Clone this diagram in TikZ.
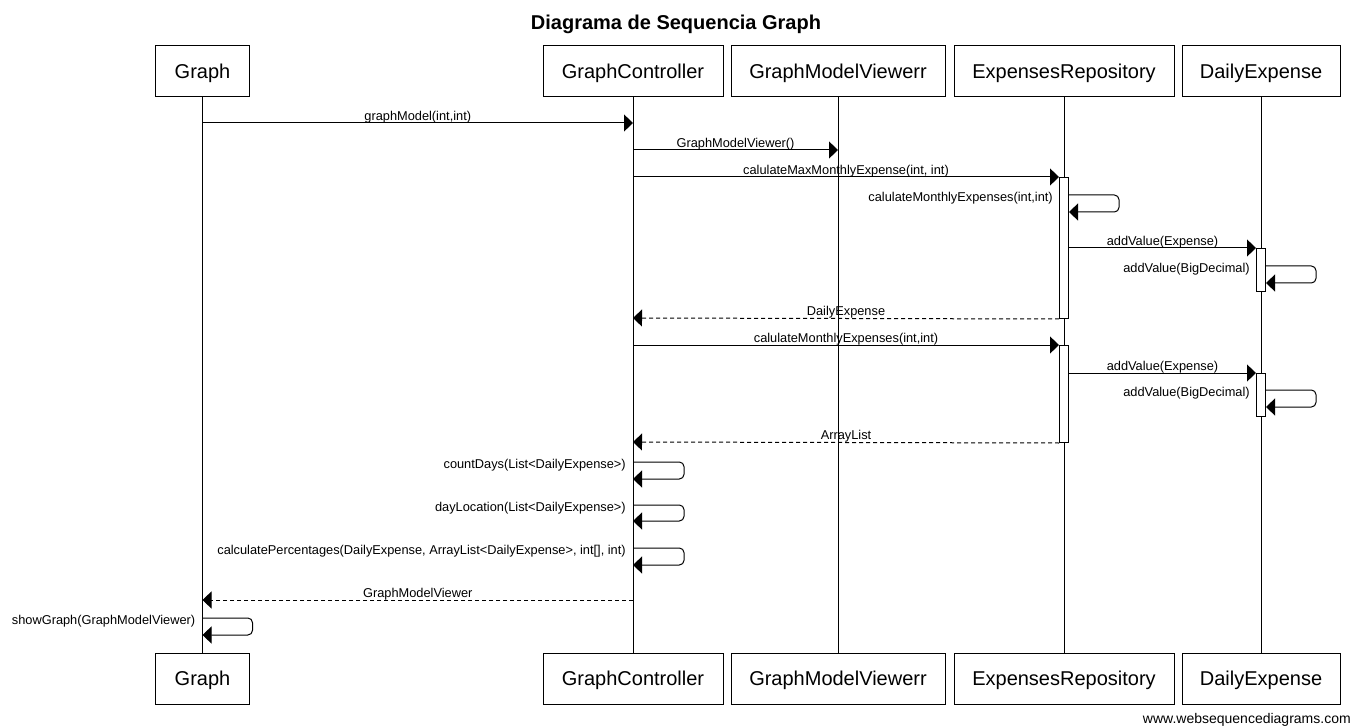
\documentclass[tikz,border=0pt]{standalone}
\usepackage{fontspec}
\setmainfont{Liberation Sans}
\usepackage{tikz}
\usetikzlibrary{arrows.meta,positioning,calc}

\begin{document}
\begin{tikzpicture}[
x=0.75pt, y=-0.75pt,
font=\fontsize{9.6}{11.5}\selectfont,
objbox/.style={draw,line width=0.75pt,minimum height=51*0.75pt,inner sep=0pt,
               text height=11pt,text depth=0pt,font=\fontsize{15}{18}\selectfont},
lifeline/.style={line width=0.75pt},
actbox/.style={draw,fill=white,line width=0.75pt,minimum width=9*0.75pt,inner sep=0pt,anchor=north},
call/.style={line width=0.75pt,-{Triangle[length=6.75pt,width=12.75pt]}},
reply/.style={call,dash pattern=on 3pt off 2.25pt},
selfcall/.style={call,rounded corners=3.5pt},
msg/.style={inner sep=0pt,anchor=base,yshift=2pt},
selfmsg/.style={inner sep=0pt,anchor=base east}
]
    \useasboundingbox (0,0) rectangle (1353,727);

    % Title
    \node[font=\bfseries\fontsize{15}{18}\selectfont] (title) at (676,24.5) {Diagrama de Sequencia Graph};

    % Rows of the messages
    \foreach \n/\y in {r1/123,r2/150,r3/177,s1/195,s1e/212,r4/248,s2/266,s2e/283,r5/318,
                       r6/345,r7/373,s3/390,s3e/407,r8/442,s4/462,s4e/479,s5/505,s5e/521,
                       s6/548,s6e/565,r9/600,s7/618,s7e/635}
        \coordinate (\n) at (0,\y);

    % Objects and lifelines
    \foreach \name/\x/\w/\txt in {graph/202.5/94/Graph,ctrl/633/180/GraphController,
                                  viewer/838/214/GraphModelViewerr,repo/1064/220/ExpensesRepository,
                                  daily/1261/158/DailyExpense}{
        \node[objbox,minimum width=\w*0.75pt] (\name) at (\x,71.5) {\txt};
        \node[objbox,minimum width=\w*0.75pt] (\name-end) at (\x,678.5) {\txt};
        \draw[lifeline] (\name) -- (\name-end);
    }

    % Activations
    \node[actbox,minimum height=141*0.75pt] (act1) at (repo |- r3) {};
    \node[actbox,minimum height=43*0.75pt] (act2) at (daily |- r4) {};
    \node[actbox,minimum height=97*0.75pt] (act3) at (repo |- r6) {};
    \node[actbox,minimum height=43*0.75pt] (act4) at (daily |- r7) {};

    % Messages
    \draw[call] (graph |- r1) -- node[msg]{graphModel(int,int)} (ctrl |- r1);
    \draw[call] (ctrl |- r2) -- node[msg]{GraphModelViewer()} (viewer |- r2);
    \draw[call] (ctrl |- r3) -- node[msg]{calulateMaxMonthlyExpense(int, int)} (act1.north west);
    \draw[selfcall] (act1.east |- s1) -- ++(50,0) |- (act1.east |- s1e);
    \node[selfmsg] (m4) at ($(act1.west |- s1)+(-6,6.5)$) {calulateMonthlyExpenses(int,int)};
    \draw[call] (act1.east |- r4) -- node[msg]{addValue(Expense)} (act2.north west);
    \draw[selfcall] (act2.east |- s2) -- ++(50,0) |- (act2.east |- s2e);
    \node[selfmsg] (m6) at ($(act2.west |- s2)+(-6,6.5)$) {addValue(BigDecimal)};
    \draw[reply] (act1.south west) -- node[msg]{DailyExpense} (ctrl |- r5);

    \draw[call] (ctrl |- r6) -- node[msg]{calulateMonthlyExpenses(int,int)} (act3.north west);
    \draw[call] (act3.east |- r7) -- node[msg]{addValue(Expense)} (act4.north west);
    \draw[selfcall] (act4.east |- s3) -- ++(50,0) |- (act4.east |- s3e);
    \node[selfmsg] (m10) at ($(act4.west |- s3)+(-6,6.5)$) {addValue(BigDecimal)};
    \draw[reply] (act3.south west) -- node[msg]{ArrayList} (ctrl |- r8);

    \draw[selfcall] (ctrl |- s4) -- ++(51,0) |- (ctrl |- s4e);
    \node[selfmsg] (m12) at ($(ctrl |- s4)+(-7,6.5)$) {countDays(List<DailyExpense>)};
    \draw[selfcall] (ctrl |- s5) -- ++(51,0) |- (ctrl |- s5e);
    \node[selfmsg] (m13) at ($(ctrl |- s5)+(-7,6.5)$) {dayLocation(List<DailyExpense>)};
    \draw[selfcall] (ctrl |- s6) -- ++(51,0) |- (ctrl |- s6e);
    \node[selfmsg] (m14) at ($(ctrl |- s6)+(-7,6.5)$) {calculatePercentages(DailyExpense, ArrayList<DailyExpense>, int[], int)};
    \draw[reply] (ctrl |- r9) -- node[msg]{GraphModelViewer} (graph |- r9);
    \draw[selfcall] (graph |- s7) -- ++(50,0) |- (graph |- s7e);
    \node[selfmsg] (m16) at ($(graph |- s7)+(-7,6.5)$) {showGraph(GraphModelViewer)};

    % Footer
    \node[font=\fontsize{10.5}{12}\selectfont,anchor=east,inner sep=0pt] (site) at (1351,719.5) {www.websequencediagrams.com};

\end{tikzpicture}
\end{document}
